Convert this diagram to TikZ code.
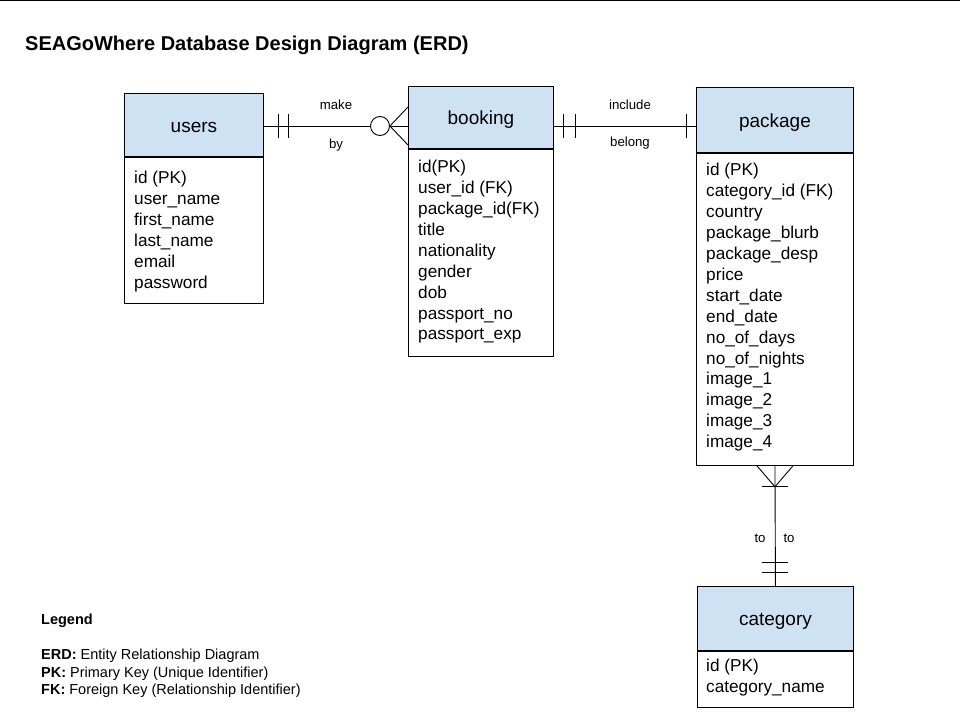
\documentclass[tikz,border=0pt]{standalone}
\usepackage{fontspec}
\setmainfont{Liberation Sans}
\usetikzlibrary{calc}
\definecolor{hdrblue}{HTML}{CFE2F3}
\newcommand{\hdrtxt}[1]{\raisebox{-2.5pt}[\height][\depth]{#1}}
\tikzset{
  hdr/.style={draw=black, fill=hdrblue, line width=0.9pt, anchor=north west, inner sep=0pt, font=\fontsize{19}{22}\selectfont},
  bodybox/.style={draw=black, fill=white, line width=0.9pt, anchor=north west, inner sep=0pt},
  attr/.style={anchor=west, align=left, inner sep=0pt, font=\fontsize{17.2}{20.9}\selectfont},
  rel/.style={line width=0.9pt},
  lbl/.style={inner sep=0pt, font=\fontsize{13.2}{15}\selectfont},
}
\begin{document}
\begin{tikzpicture}[x=1pt,y=-1pt]
\useasboundingbox (0,0) rectangle (960,720);
\fill[white] (0,0) rectangle (960,720);
\draw[line width=1.2pt] (0,0.6) -- (960,0.6);
\node[anchor=base west, inner sep=0pt, font=\bfseries\fontsize{20}{23}\selectfont] (title) at (25,50) {SEAGoWhere Database Design Diagram (ERD)};

% users
\node[hdr, minimum width=139, minimum height=63] (users) at (124,93) {\hdrtxt{users}};
\node[bodybox, minimum width=139, minimum height=146] (usersb) at (users.south west) {};
\node[attr] (usersa) at ($(usersb.west)+(10,1)$) {id (PK)\\user\_name\\first\_name\\last\_name\\email\\password};

% booking
\node[hdr, minimum width=145, minimum height=62] (booking) at (408,86) {\hdrtxt{booking}};
\node[bodybox, minimum width=145, minimum height=207] (bookingb) at (booking.south west) {};
\node[attr] (bookinga) at ($(bookingb.west)+(10,-1)$) {id(PK)\\user\_id (FK)\\package\_id(FK)\\title\\nationality\\gender\\dob\\passport\_no\\passport\_exp};

% package
\node[hdr, minimum width=157, minimum height=65] (package) at (696,87) {\hdrtxt{package}};
\node[bodybox, minimum width=157, minimum height=312] (packageb) at (package.south west) {};
\node[attr] (packagea) at ($(packageb.west)+(10,-2)$) {id (PK)\\category\_id (FK)\\country\\package\_blurb\\package\_desp\\price\\start\_date\\end\_date\\no\_of\_days\\no\_of\_nights\\image\_1\\image\_2\\image\_3\\image\_4};

% category
\node[hdr, minimum width=156, minimum height=64] (category) at (697,586) {\hdrtxt{category}};
\node[bodybox, minimum width=156, minimum height=56] (categoryb) at (category.south west) {};
\node[attr] (categorya) at ($(categoryb.west)+(9,-1.5)$) {id (PK)\\category\_name};

% users -- booking
\coordinate (ub1) at (users.east |- 0,126);
\coordinate (ub2) at (booking.west |- 0,126);
\node[draw, circle, line width=0.9pt, minimum size=19, inner sep=0pt] (crowc) at ($(ub2)+(-28,0)$) {};
\draw[rel] (ub1) -- (crowc.west);
\draw[rel] ($(ub1)+(15,-12)$) -- ($(ub1)+(15,12)$);
\draw[rel] ($(ub1)+(25,-12)$) -- ($(ub1)+(25,12)$);
\draw[rel] (crowc.east) -- (ub2);
\draw[rel] (crowc.east) -- ($(ub2)+(0,-19)$);
\draw[rel] (crowc.east) -- ($(ub2)+(0,19)$);
\node[lbl] (make) at (336,104.5) {make};
\node[lbl] (by) at (336,145.5) {by};

% booking -- package
\coordinate (bp1) at (booking.east |- 0,126);
\coordinate (bp2) at (package.west |- 0,126);
\draw[rel] (bp1) -- (bp2);
\draw[rel] ($(bp1)+(10,-12)$) -- ($(bp1)+(10,12)$);
\draw[rel] ($(bp1)+(22,-12)$) -- ($(bp1)+(22,12)$);
\draw[rel] ($(bp2)+(-10,-12)$) -- ($(bp2)+(-10,12)$);
\node[lbl] (include) at (630,104.5) {include};
\node[lbl] (belong) at (630,143.5) {belong};

% package -- category
\coordinate (pc1) at (packageb.south);
\coordinate (pc2) at (category.north);
\draw[rel] (pc1) -- (pc2);
\draw[rel] ($(pc1)+(-18,0)$) -- ($(pc1)+(0,21)$) -- ($(pc1)+(18,0)$);
\draw[rel] ($(pc1)+(-13,21)$) -- ($(pc1)+(13,21)$);
\draw[rel] ($(pc2)+(-13,-24)$) -- ($(pc2)+(13,-24)$);
\draw[rel] ($(pc2)+(-13,-14)$) -- ($(pc2)+(13,-14)$);
\node[lbl] (to1) at (760,538.5) {to};
\node[lbl] (to2) at (789,538.5) {to};

% legend
\node[anchor=base west, inner sep=0pt, font=\bfseries\fontsize{14.5}{17}\selectfont] (legend) at (41,624) {Legend};
\node[anchor=north west, inner sep=0pt, align=left, font=\fontsize{14.5}{17.6}\selectfont] (legendtxt) at (41,649) {\textbf{ERD:} Entity Relationship Diagram\\\textbf{PK:} Primary Key (Unique Identifier)\\\textbf{FK:} Foreign Key (Relationship Identifier)};
\end{tikzpicture}
\end{document}
